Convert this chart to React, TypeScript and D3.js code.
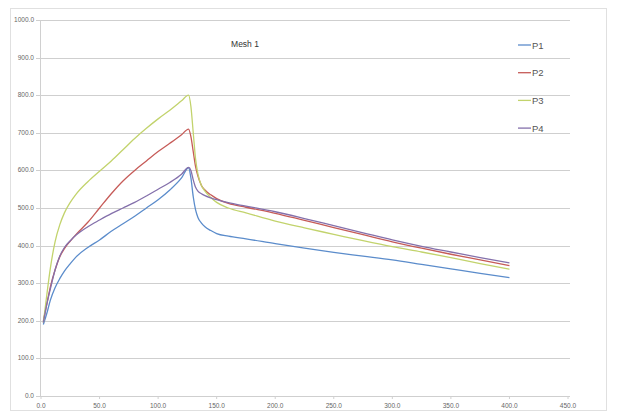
import { useEffect, useRef } from "react";
import * as d3 from "d3";

// shared x positions of the samples
const xs = [2, 5, 8, 12, 16, 20, 25, 30, 40, 50, 60, 70, 80, 90, 100, 110, 120, 126, 128, 130, 132, 134, 137, 140, 145, 150, 160, 175, 200, 225, 250, 275, 300, 325, 350, 375, 400];

const p1 = [190, 220, 255, 288, 312, 332, 352, 370, 395, 415, 438, 458, 478, 500, 522, 548, 580, 607, 580, 530, 495, 475, 460, 450, 440, 432, 425, 418, 405, 393, 382, 372, 362, 350, 338, 326, 315];
const p2 = [200, 245, 290, 335, 370, 392, 412, 430, 462, 500, 538, 572, 600, 625, 650, 672, 695, 710, 690, 650, 610, 585, 560, 548, 535, 525, 512, 502, 486, 467, 448, 429, 410, 393, 377, 362, 347];
const p3 = [195, 270, 340, 410, 455, 487, 515, 537, 570, 598, 625, 655, 685, 712, 737, 760, 785, 800, 770, 700, 630, 590, 560, 545, 528, 515, 500, 487, 465, 447, 430, 413, 397, 383, 368, 352, 337];
const p4 = [195, 245, 285, 335, 372, 395, 413, 428, 450, 468, 485, 500, 515, 532, 550, 568, 590, 608, 600, 575, 555, 545, 538, 533, 527, 522, 514, 505, 490, 472, 453, 434, 415, 398, 383, 368, 354];

const seriesNames = ["P1", "P2", "P3", "P4"];
const seriesValues = [p1, p2, p3, p4];
const colors = ["#5b8ccb", "#c65b58", "#c2d36c", "#8470ab"];

const xTicks = [0, 50, 100, 150, 200, 250, 300, 350, 400, 450];
const yTicks = [0, 100, 200, 300, 400, 500, 600, 700, 800, 900, 1000];
const title = "Mesh 1";

const App = () => {
  const svgRef = useRef(null);

  useEffect(() => {
    const svg = d3.select(svgRef.current);
    svg.selectAll("*").remove();

    const font = "Liberation Sans, Arial, sans-serif";

    const x = d3.scaleLinear().domain([0, 450]).range([41, 568]);
    const y = d3.scaleLinear().domain([0, 1000]).range([396, 20]);

    svg.append("rect")
      .attr("x", 10.5).attr("y", 8.5)
      .attr("width", 596).attr("height", 402)
      .attr("fill", "#fff")
      .attr("stroke", "#e0e0e0");

    // gridlines
    svg.append("g")
      .selectAll("line")
      .data(yTicks)
      .join("line")
      .attr("x1", 36).attr("x2", 570)
      .attr("y1", (d) => Math.round(y(d)) + 0.5)
      .attr("y2", (d) => Math.round(y(d)) + 0.5)
      .attr("stroke", "#cfcfcf")
      .attr("stroke-width", 1.2);

    // y axis line
    svg.append("line")
      .attr("x1", 40.5).attr("x2", 40.5)
      .attr("y1", y(1000)).attr("y2", y(0))
      .attr("stroke", "#d0d0d0");

    // y labels
    svg.append("g")
      .selectAll("text")
      .data(yTicks)
      .join("text")
      .attr("x", 34)
      .attr("y", (d) => y(d) + 2)
      .attr("text-anchor", "end")
      .attr("font-family", font)
      .attr("font-size", 6.5)
      .attr("fill", "#666")
      .text((d) => d3.format(".1f")(d));

    // x ticks and labels
    svg.append("g")
      .selectAll("line")
      .data(xTicks)
      .join("line")
      .attr("x1", (d) => x(d)).attr("x2", (d) => x(d))
      .attr("y1", y(0)).attr("y2", y(0) + 3)
      .attr("stroke", "#d0d0d0");

    svg.append("g")
      .selectAll("text")
      .data(xTicks)
      .join("text")
      .attr("x", (d) => x(d))
      .attr("y", 408)
      .attr("text-anchor", "middle")
      .attr("font-family", font)
      .attr("font-size", 6.5)
      .attr("fill", "#666")
      .text((d) => d3.format(".1f")(d));

    // series lines
    const line = d3.line<number>()
      .x((_, i) => x(xs[i]))
      .y((d) => y(d))
      .curve(d3.curveMonotoneX);

    seriesValues.forEach((vals, k) => {
      svg.append("path")
        .attr("d", line(vals))
        .attr("fill", "none")
        .attr("stroke", colors[k])
        .attr("stroke-width", 1.3)
        .attr("stroke-linejoin", "round");
    });

    // title
    svg.append("text")
      .attr("x", 245).attr("y", 47)
      .attr("text-anchor", "middle")
      .attr("font-family", font)
      .attr("font-size", 8.5)
      .attr("fill", "#333")
      .text(title);

    // legend
    const legend = svg.append("g");
    seriesNames.forEach((name, k) => {
      const ly = 45 + k * 27.7;
      legend.append("line")
        .attr("x1", 518).attr("x2", 531)
        .attr("y1", ly).attr("y2", ly)
        .attr("stroke", colors[k])
        .attr("stroke-width", 1.3);
      legend.append("text")
        .attr("x", 532).attr("y", ly + 3.5)
        .attr("font-family", font)
        .attr("font-size", 9.5)
        .attr("fill", "#555")
        .text(name);
    });
  }, []);

  return (
    <svg
      ref={svgRef}
      width={620}
      height={416}
      style={{ position: "absolute", left: 0, top: 0, background: "#fff" }}
    ></svg>
  );
};

export default App;
